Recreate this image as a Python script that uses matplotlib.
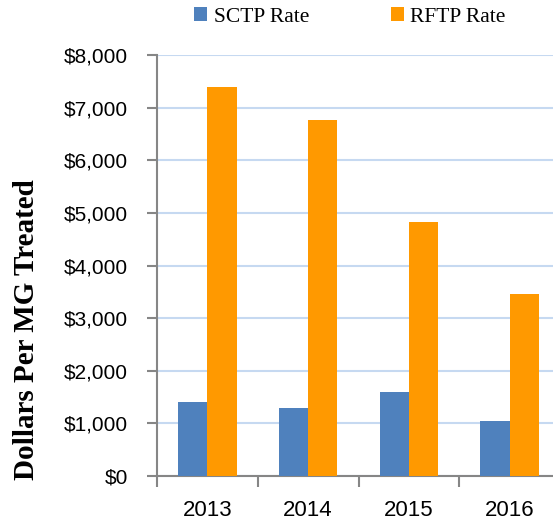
import matplotlib
matplotlib.use('Agg')
import matplotlib.pyplot as plt
from matplotlib.ticker import FuncFormatter, FixedLocator
import numpy as np

years = ['2013', '2014', '2015', '2016']
sctp_rate = [1410, 1300, 1600, 1045]
rftp_rate = [7390, 6770, 4820, 3460]

BLUE = '#4F81BD'
ORANGE = '#FF9900'
GRID = '#C6D9F1'
SPINE = '#868686'

fig = plt.figure(figsize=(5.53, 5.23), dpi=100)
ax = fig.add_axes([157 / 553, 47 / 523, 403 / 553, 421 / 523])

x = np.arange(len(years))
w = 0.29
ax.bar(x - w / 2, sctp_rate, w, color=BLUE, label='SCTP Rate', zorder=3)
ax.bar(x + w / 2, rftp_rate, w, color=ORANGE, label='RFTP Rate', zorder=3)

ax.set_xlim(-0.5, len(years) - 0.5)
ax.set_ylim(0, 8000)
ax.set_yticks(np.arange(0, 8001, 1000))
ax.yaxis.set_major_formatter(FuncFormatter(lambda v, p: f'${v:,.0f}'))
ax.yaxis.grid(True, color=GRID, linewidth=1.5, zorder=0)

ax.set_xticks(x)
ax.set_xticklabels(years)
ax.xaxis.set_minor_locator(FixedLocator(np.arange(-0.5, len(years), 1.0)))
ax.tick_params(axis='x', which='major', length=0, pad=17.5, labelsize=16)
ax.tick_params(axis='x', which='minor', length=8, width=1.5, color=SPINE)
ax.tick_params(axis='y', length=7, width=1.5, color=SPINE, pad=14, labelsize=15)
for lab in ax.get_xticklabels() + ax.get_yticklabels():
    lab.set_family('Liberation Sans')

for s in ['top', 'right']:
    ax.spines[s].set_visible(False)
for s in ['left', 'bottom']:
    ax.spines[s].set_color(SPINE)
    ax.spines[s].set_linewidth(1.5)

ax.set_ylabel('Dollars Per MG Treated', fontsize=21, fontweight='bold',
              family='Liberation Serif')
ax.yaxis.set_label_coords(-0.29, 0.347)

fig.legend(loc='center', bbox_to_anchor=(350 / 553, 1 - 17 / 523), ncol=2,
           frameon=False, prop={'family': 'Liberation Serif', 'size': 15.5},
           handlelength=0.6, handleheight=0.6, handletextpad=0.3,
           columnspacing=3.8)

fig.savefig('out.png', dpi=100)
